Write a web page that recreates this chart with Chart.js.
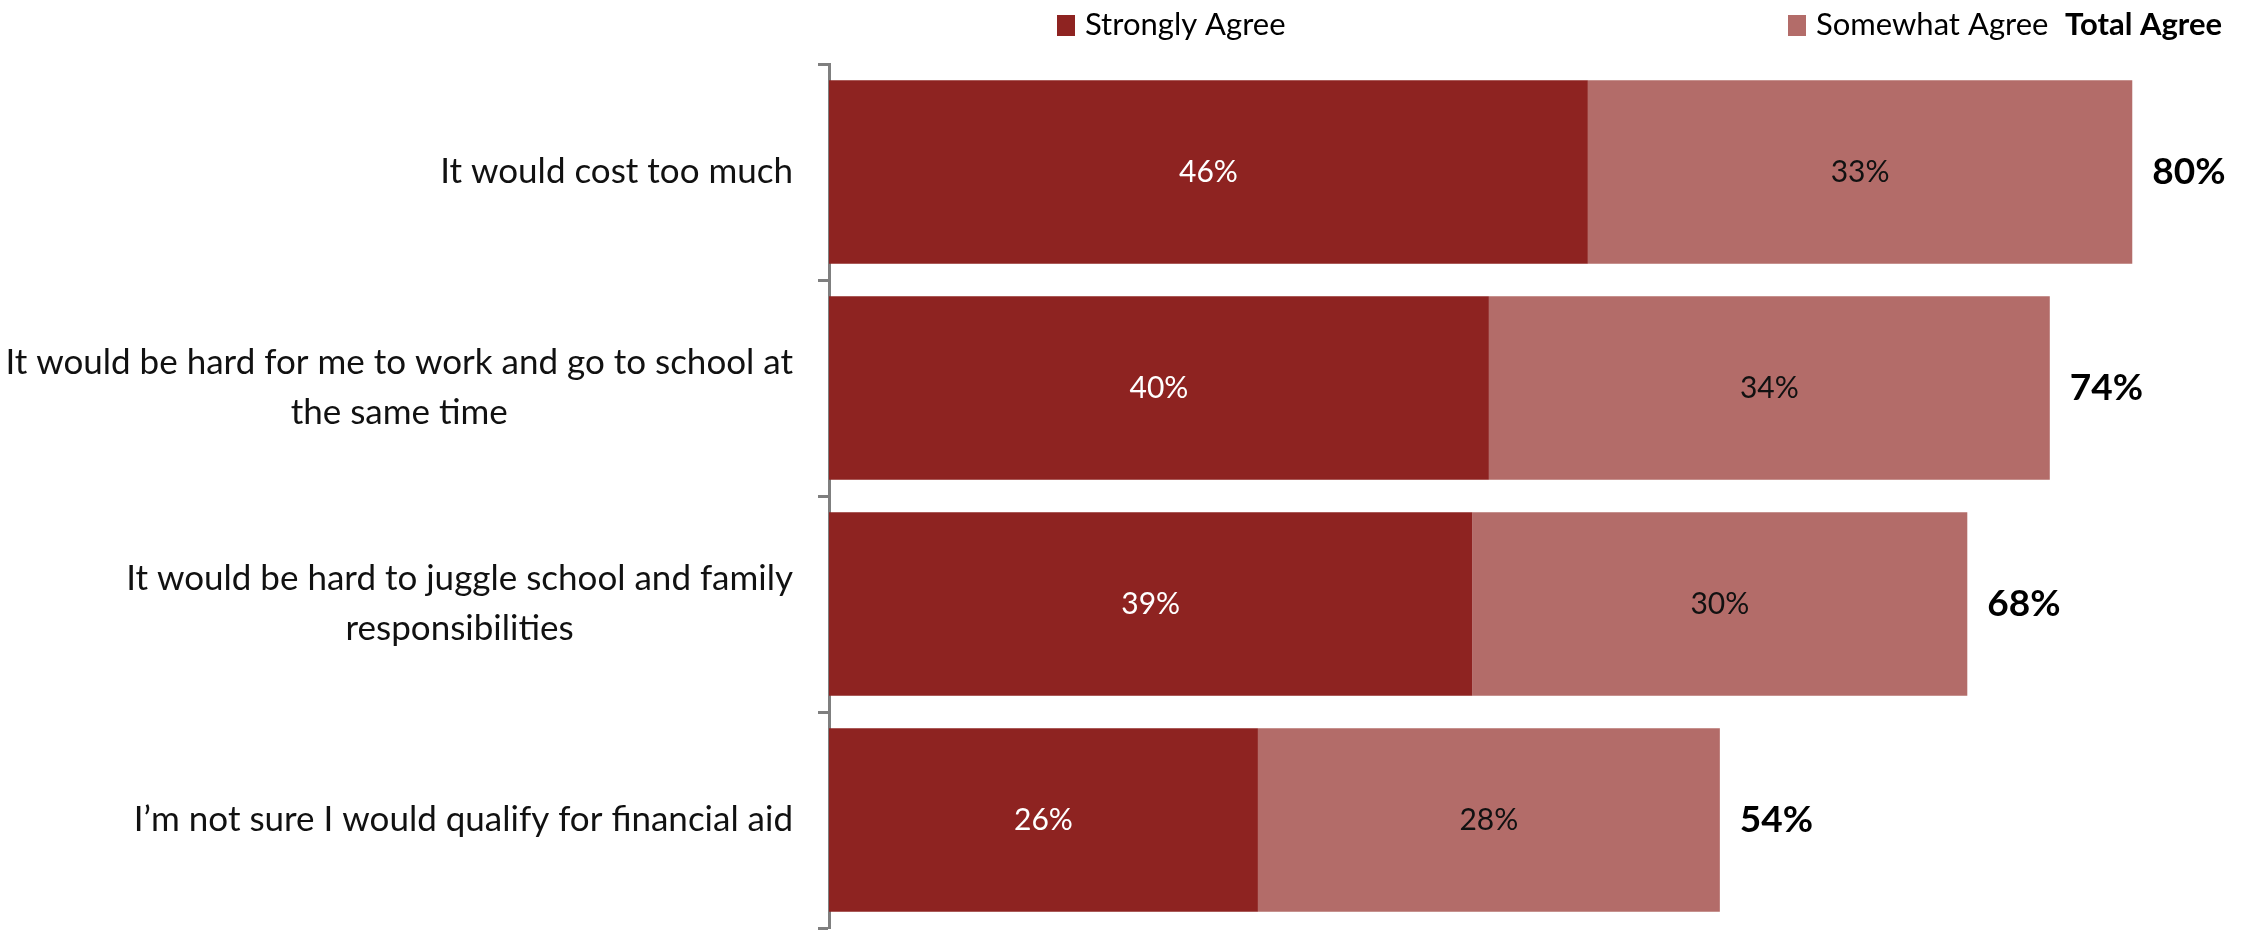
<!DOCTYPE html>
<html>
<head>
<meta charset="utf-8">
<script src="https://cdn.jsdelivr.net/npm/chart.js@4.4.0/dist/chart.umd.min.js"></script>
<style>
  html, body { margin: 0; padding: 0; background: #fff; overflow: hidden; }
  #wrap { width: 2256px; height: 930px; }
</style>
</head>
<body>
<div id="wrap"><canvas id="barriers"></canvas></div>
<script>
// Reasons for not going back to school
const reasons = [
  "It would cost too much",
  ["It would be hard for me to work and go to school at", "the same time"],
  ["It would be hard to juggle school and family", "responsibilities"],
  "I\u2019m not sure I would qualify for financial aid"
];
const stronglyAgree = [46, 40, 39, 26];
const somewhatAgree = [33, 34, 30, 28];
const totalAgree = [80, 74, 68, 54];

const darkRed = '#8E2321';
const lightRed = '#B36C69';
const FONT = 'Lato, "Open Sans", sans-serif';

// category names, drawn as centred blocks right-aligned to the axis
const categoryLabels = {
  id: 'categoryLabels',
  afterDraw(chart) {
    const ctx = chart.ctx;
    const scale = chart.scales.y;
    const right = scale.right - 36;
    const lineH = 50;
    ctx.save();
    ctx.font = '35px ' + FONT;
    ctx.fillStyle = '#111';
    ctx.textAlign = 'center';
    ctx.textBaseline = 'middle';
    chart.data.labels.forEach((lab, i) => {
      const lines = Array.isArray(lab) ? lab : [lab];
      const w = Math.max(...lines.map(l => ctx.measureText(l).width));
      const cx = right - w / 2;
      const y0 = scale.getPixelForTick(i) - (lines.length - 1) * lineH / 2;
      lines.forEach((l, j) => ctx.fillText(l, cx, y0 + j * lineH));
    });
    ctx.restore();
  }
};

// labels inside each segment, totals after each bar, header legend
const barLabels = {
  id: 'barLabels',
  afterDatasetsDraw(chart) {
    const ctx = chart.ctx;
    ctx.save();
    ctx.textBaseline = 'middle';
    chart.data.datasets.forEach((ds, di) => {
      chart.getDatasetMeta(di).data.forEach((bar, i) => {
        ctx.font = '30px ' + FONT;
        ctx.fillStyle = di === 0 ? '#fff' : '#111';
        ctx.textAlign = 'center';
        ctx.fillText(ds.data[i] + '%', (bar.x + bar.base) / 2, bar.y);
      });
    });
    // totals at the end of the stacked bar
    const last = chart.getDatasetMeta(1).data;
    ctx.font = 'bold 37px ' + FONT;
    ctx.fillStyle = '#000';
    ctx.textAlign = 'left';
    last.forEach((bar, i) => {
      ctx.fillText(totalAgree[i] + '%', bar.x + 20, bar.y);
    });

    // legend row
    const y = 25;
    const items = [
      { text: 'Strongly Agree', color: darkRed, x: 1057 },
      { text: 'Somewhat Agree', color: lightRed, x: 1788 }
    ];
    ctx.font = '31px ' + FONT;
    items.forEach(it => {
      ctx.fillStyle = it.color;
      ctx.fillRect(it.x, y - 10, 18, 21);
      ctx.fillStyle = '#000';
      ctx.fillText(it.text, it.x + 28, y);
    });
    ctx.font = 'bold 31px ' + FONT;
    ctx.textAlign = 'right';
    ctx.fillText('Total Agree', 2222, y);
    ctx.restore();
  }
};

new Chart(document.getElementById('barriers'), {
  type: 'bar',
  data: {
    labels: reasons,
    datasets: [
      { label: 'Strongly Agree', data: stronglyAgree, backgroundColor: darkRed },
      { label: 'Somewhat Agree', data: somewhatAgree, backgroundColor: lightRed }
    ]
  },
  options: {
    indexAxis: 'y',
    responsive: true,
    maintainAspectRatio: false,
    animation: false,
    layout: { padding: { top: 64, bottom: 2, left: 0, right: 0 } },
    datasets: { bar: { barPercentage: 1, categoryPercentage: 0.85 } },
    plugins: {
      legend: { display: false },
      tooltip: { enabled: false }
    },
    scales: {
      x: {
        stacked: true,
        display: false,
        min: 0,
        max: 86.5
      },
      y: {
        stacked: true,
        afterFit(scale) {
          scale.width = 829;
          scale.paddingTop = 0;
          scale.paddingBottom = 0;
        },
        border: { display: true, color: '#7f7f7f', width: 3 },
        grid: {
          offset: true,
          drawOnChartArea: false,
          tickLength: 11,
          tickWidth: 3,
          tickColor: '#7f7f7f'
        },
        ticks: { display: false }
      }
    }
  },
  plugins: [barLabels, categoryLabels]
});
</script>
</body>
</html>
